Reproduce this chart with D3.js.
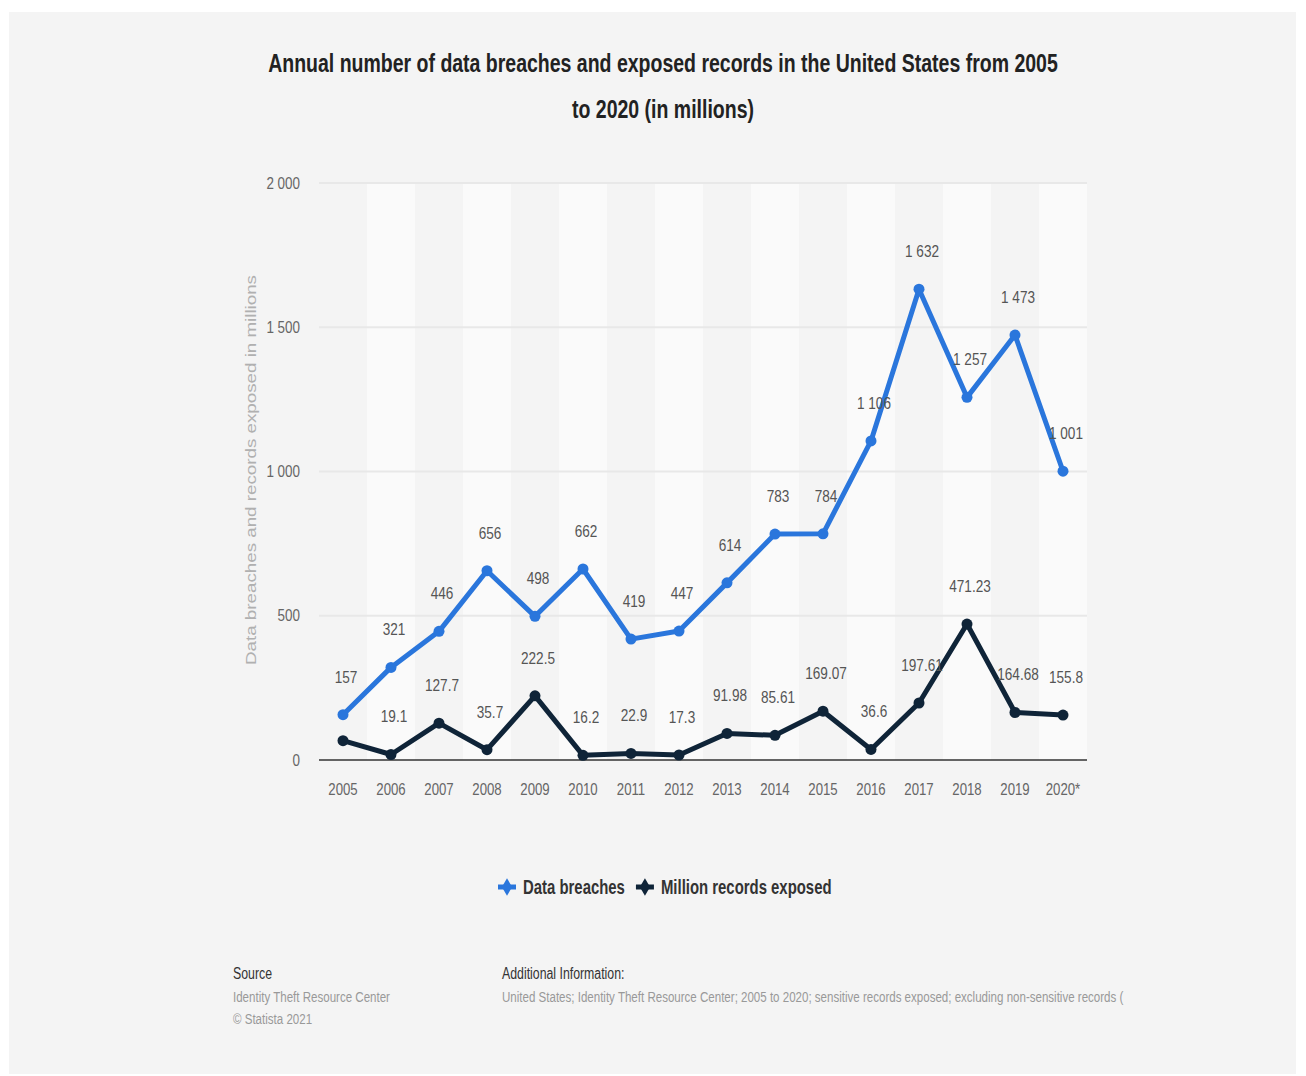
<!DOCTYPE html>
<html>
<head>
<meta charset="utf-8">
<script src="https://cdn.jsdelivr.net/npm/d3@7"></script>
<style>
  body { margin: 0; background: #ffffff; }
  svg { display: block; }
  text { font-family: "Liberation Sans Narrow", "Arial Narrow", "Liberation Sans", sans-serif; }
</style>
</head>
<body>
<svg id="chart" width="1306" height="1076"></svg>
<script>
const years = ["2005", "2006", "2007", "2008", "2009", "2010", "2011", "2012",
    "2013", "2014", "2015", "2016", "2017", "2018", "2019", "2020*"];
const breaches = [157, 321, 446, 656, 498, 662, 419, 447, 614, 783, 784, 1106, 1632, 1257, 1473, 1001];
const records = [66.9, 19.1, 127.7, 35.7, 222.5, 16.2, 22.9, 17.3, 91.98, 85.61, 169.07, 36.6, 197.61, 471.23, 164.68, 155.8];
const recordLabels = ["", "19.1", "127.7", "35.7", "222.5", "16.2", "22.9", "17.3", "91.98", "85.61",
    "169.07", "36.6", "197.61", "471.23", "164.68", "155.8"];
const yTicks = [0, 500, 1000, 1500, 2000];

const fmt = v => d3.format(",")(v).replace(",", " ");

const series = [
    {name: "Data breaches", values: breaches, labels: breaches.map(fmt), color: "#2a76dc"},
    {name: "Million records exposed", values: records, labels: recordLabels, color: "#0f2438"}
];

// no narrow font installed, so squeeze the glyphs horizontally around their anchor x
function condense(sel, k) {
    sel.each(function () {
        const ax = +(this.getAttribute("x") || 0);
        d3.select(this).attr("transform", `translate(${ax},0) scale(${k},1) translate(${-ax},0)`);
    });
}

const svg = d3.select("#chart");
const m = {left: 319, right: 1087, top: 183, bottom: 760};

// grey panel
svg.append("rect").attr("x", 9).attr("y", 12).attr("width", 1287).attr("height", 1062).attr("fill", "#f4f4f4");

const x = d3.scaleBand().domain(years).range([m.left, m.right]);
const y = d3.scaleLinear().domain([0, 2000]).range([m.bottom, m.top]);

// alternating column shading
svg.append("g").selectAll("rect")
    .data(years)
    .enter()
    .append("rect")
    .attr("x", d => x(d))
    .attr("y", m.top)
    .attr("width", x.bandwidth())
    .attr("height", m.bottom - m.top)
    .attr("fill", (d, i) => i % 2 ? "#fafafa" : "#f4f4f4");

// gridlines
svg.append("g").selectAll("line")
    .data(yTicks.filter(t => t > 0))
    .enter()
    .append("line")
    .attr("x1", m.left).attr("x2", m.right)
    .attr("y1", d => y(d)).attr("y2", d => y(d))
    .attr("stroke", "#e8e8e8").attr("stroke-width", 2);

// y axis labels
const yAxis = svg.append("g").attr("transform", `translate(${m.left},0)`)
    .call(d3.axisLeft(y).tickValues(yTicks).tickSize(0).tickPadding(19).tickFormat(fmt));
yAxis.select(".domain").remove();
yAxis.selectAll("text").attr("font-size", 16).attr("fill", "#666").attr("font-family", null).call(condense, 0.84);

// baseline
svg.append("line").attr("x1", m.left).attr("x2", m.right)
    .attr("y1", m.bottom).attr("y2", m.bottom)
    .attr("stroke", "#333").attr("stroke-width", 1.5);

// x axis labels
const xAxis = svg.append("g").attr("transform", `translate(0,${m.bottom})`)
    .call(d3.axisBottom(x).tickSize(0).tickPadding(23));
xAxis.select(".domain").remove();
xAxis.selectAll("text").attr("font-size", 16.5).attr("fill", "#666").attr("font-family", null).call(condense, 0.8);

svg.append("text")
    .attr("transform", `translate(256,470) rotate(-90)`)
    .attr("text-anchor", "middle")
    .attr("font-size", 15)
    .attr("fill", "#b0b0b0")
    .attr("textLength", 390)
    .attr("lengthAdjust", "spacingAndGlyphs")
    .style("font-family", "'Liberation Sans', sans-serif")
    .text("Data breaches and records exposed in millions");

const cx = d => x(d) + x.bandwidth() / 2;
const line = d3.line().x(d => cx(d.year)).y(d => y(d.value));

series.forEach(s => {
    const pts = years.map((yr, i) => ({year: yr, value: s.values[i], label: s.labels[i]}));
    const g = svg.append("g");
    g.append("path").datum(pts)
        .attr("d", line)
        .attr("fill", "none")
        .attr("stroke", s.color)
        .attr("stroke-width", 5)
        .attr("stroke-linejoin", "round");
    g.selectAll("circle").data(pts).enter().append("circle")
        .attr("cx", d => cx(d.year)).attr("cy", d => y(d.value))
        .attr("r", 5.5).attr("fill", s.color);
    g.selectAll("text").data(pts).enter().append("text")
        .attr("x", d => cx(d.year) + 3)
        .attr("y", d => y(d.value) - 32)
        .attr("text-anchor", "middle")
        .attr("font-size", 17)
        .attr("fill", "#555")
        .text(d => d.label)
        .call(condense, 0.8);
});

// title
const title = svg.append("text").attr("text-anchor", "middle").attr("x", 663)
    .attr("font-size", 26).attr("font-weight", "bold").attr("fill", "#222");
title.append("tspan").attr("x", 663).attr("y", 72)
    .text("Annual number of data breaches and exposed records in the United States from 2005");
title.append("tspan").attr("x", 663).attr("y", 118).text("to 2020 (in millions)");
title.call(condense, 0.75);

// legend
const legend = svg.append("g").attr("transform", "translate(0,887)");
let lx = 498;
series.forEach(s => {
    const item = legend.append("g").attr("transform", `translate(${lx},0)`);
    item.append("line").attr("x1", 0).attr("x2", 18).attr("stroke", s.color).attr("stroke-width", 5);
    item.append("path").attr("d", d3.symbol(d3.symbolDiamond, 90)()).attr("transform", "translate(9,0)").attr("fill", s.color);
    const t = item.append("text").attr("x", 25).attr("y", 7)
        .attr("font-size", 21).attr("font-weight", "bold").attr("fill", "#333")
        .text(s.name);
    const w = t.node().getComputedTextLength() * 0.71;
    t.call(condense, 0.71);
    lx += 25 + w + 11;
});

// footer
const foot = svg.append("g");
foot.append("text").attr("x", 233).attr("y", 979).attr("font-size", 16).attr("fill", "#333").text("Source");
foot.append("text").attr("x", 233).attr("y", 1002).attr("font-size", 15).attr("fill", "#999").text("Identity Theft Resource Center");
foot.append("text").attr("x", 233).attr("y", 1024).attr("font-size", 15).attr("fill", "#999").text("© Statista 2021");
foot.append("text").attr("x", 502).attr("y", 979).attr("font-size", 16).attr("fill", "#333").text("Additional Information:");
foot.append("text").attr("x", 502).attr("y", 1002).attr("font-size", 15).attr("fill", "#999")
    .text("United States; Identity Theft Resource Center; 2005 to 2020; sensitive records exposed; excluding non-sensitive records (");
foot.selectAll("text").call(condense, 0.77);
</script>
</body>
</html>
